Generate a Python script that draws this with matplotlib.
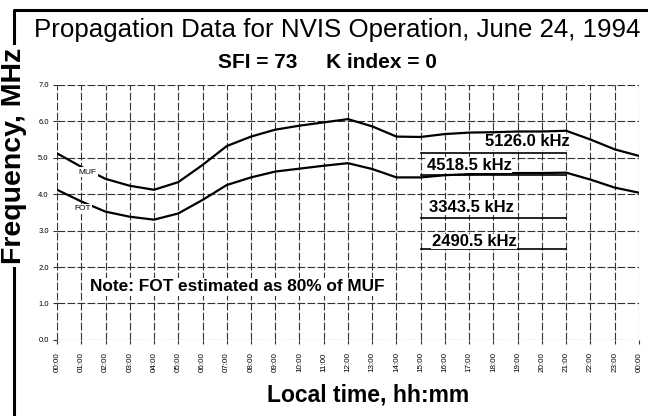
import matplotlib.pyplot as plt
from matplotlib.lines import Line2D

plt.rcParams['font.family'] = ['Liberation Sans', 'DejaVu Sans']

# hourly MUF / FOT estimates, MHz (hour 24 = next midnight)
hours = list(range(25))
muf = [5.12, 4.75, 4.42, 4.23, 4.12, 4.33, 4.8, 5.32, 5.58, 5.77, 5.88, 5.97, 6.06,
       5.86, 5.58, 5.57, 5.65, 5.69, 5.70, 5.72, 5.72, 5.74, 5.5, 5.23, 5.05]
fot = [4.12, 3.8, 3.52, 3.38, 3.30, 3.47, 3.84, 4.25, 4.46, 4.62, 4.70, 4.78, 4.85,
       4.69, 4.46, 4.46, 4.52, 4.55, 4.56, 4.58, 4.58, 4.59, 4.40, 4.18, 4.04]
hour_labels = ['%02d:00' % (h % 24) for h in hours]

# operating frequencies, kHz, and the window they were used
channels = [5126.0, 4518.5, 3343.5, 2490.5]
channel_start, channel_end = 15, 21
label_pos = [(17.65, 5.44), (15.25, 4.80), (15.35, 3.64), (15.45, 2.70)]

fig = plt.figure(figsize=(6.48, 4.16), dpi=100)
ax = fig.add_axes([0.088, 0.183, 0.898, 0.613])

for s in ax.spines.values():
    s.set_visible(False)
ax.set_xlim(0, 24)
ax.set_ylim(0, 7)
ax.set_xticks(hours)
ax.set_xticklabels(hour_labels, rotation=90, fontsize=5.8)
ax.set_yticks(range(8))
ax.set_yticklabels(['%.1f' % v for v in range(8)], fontsize=5.5)
ax.tick_params(length=3, width=0.8, color='0.2', pad=3)
ax.tick_params(axis='x', pad=6)
ax.grid(True, color='0.2', linestyle=(0, (7, 2)), linewidth=0.8)
ax.set_axisbelow(True)

ax.plot(hours, muf, color='black', lw=1.6, zorder=3)
ax.plot(hours, fot, color='black', lw=1.6, zorder=3)

box = dict(facecolor='white', edgecolor='none', pad=1.0)
ax.text(1.25, 4.6, 'MUF', fontsize=6, ha='center', va='center', bbox=box, zorder=4)
ax.text(1.05, 3.6, 'FOT', fontsize=6, ha='center', va='center', bbox=box, zorder=4)

tight = dict(facecolor='white', edgecolor='none', pad=0.2)
for f, (lx, ly) in zip(channels, label_pos):
    ax.plot([channel_start, channel_end], [f / 1000, f / 1000], color='black', lw=1.2, zorder=3)
    ax.text(lx, ly, '%.1f kHz' % f, fontsize=12, fontweight='bold', ha='left', va='center',
            bbox=tight, zorder=5)

ax.text(1.35, 1.46, 'Note: FOT estimated as 80% of MUF', fontsize=12.4, fontweight='bold',
        ha='left', va='center', bbox=box, zorder=5)

# titles and axis captions
fig.text(0.52, 0.928, 'Propagation Data for NVIS Operation, June 24, 1994',
         fontsize=18.6, ha='center', va='center')
fig.text(0.505, 0.849, 'SFI = 73     K index = 0', fontsize=15, fontweight='bold',
         ha='center', va='center')
fig.text(0.568, 0.05, 'Local time, hh:mm', fontsize=16.5, fontweight='bold',
         ha='center', va='center')

# page frame (left and top edges)
fig.add_artist(Line2D([0.0216, 0.0216, 1.0], [0.0, 0.976, 0.976],
                      color='black', lw=2.2, transform=fig.transFigure))
fig.text(0.0216, 0.625, 'Frequency, MHz', fontsize=20.5, fontweight='bold', rotation=90,
         ha='center', va='center', bbox=dict(facecolor='white', edgecolor='none', pad=2))

fig.savefig('out.png', dpi=100)
